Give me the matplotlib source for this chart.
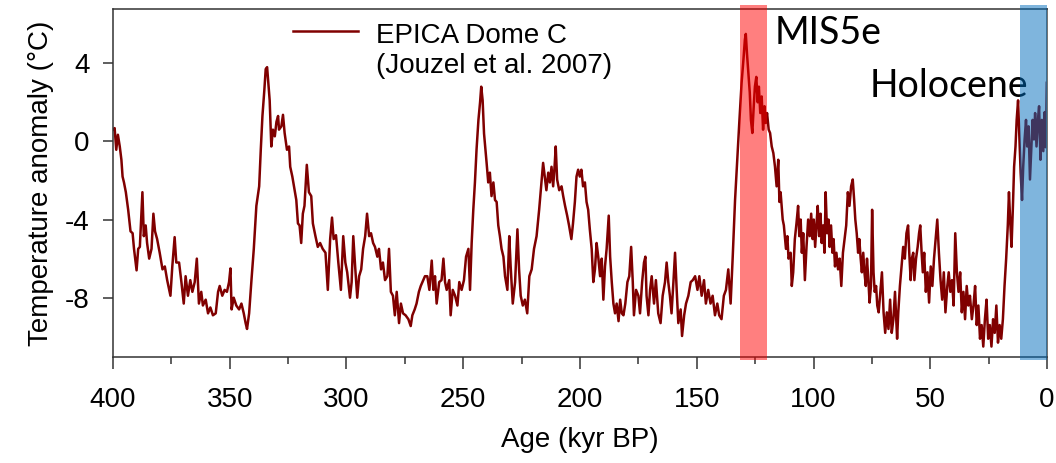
import matplotlib
matplotlib.use("Agg")
import matplotlib.pyplot as plt
import numpy as np
from matplotlib.ticker import MultipleLocator

# EPICA Dome C temperature anomaly (age kyr BP, deg C)
age = [400.0, 399.3, 398.6, 397.9, 397.1, 396.4, 395.9, 395.3, 394.5, 393.5,
       392.5, 391.6, 391.0, 389.9, 389.2, 388.5, 387.4, 386.8, 386.0, 385.4,
       384.5, 383.5, 382.7, 382.0, 381.1, 380.0, 378.8, 377.8, 376.8, 375.4,
       374.6, 373.6, 372.9, 371.7, 370.7, 369.7, 368.9, 367.9, 366.9, 366.0,
       365.0, 364.1, 363.2, 362.2, 361.5, 360.3, 359.3, 358.3, 357.2, 356.0,
       355.0, 354.3, 353.2, 352.2, 351.2, 350.3, 349.7, 349.2, 348.3, 347.2,
       346.0, 345.0, 344.0, 343.2, 342.6, 341.7, 340.7, 339.7, 338.6, 337.4,
       336.7, 336.0, 335.2, 334.6, 334.0, 333.5, 332.9, 332.2, 331.5, 330.7,
       330.0, 329.3, 328.9, 327.9, 327.2, 326.5, 325.5, 324.6, 324.1, 323.2,
       322.2, 321.5, 320.8, 320.1, 319.4, 318.7, 318.0, 317.0, 316.1, 315.1,
       314.4, 313.3, 312.3, 311.3, 310.2, 309.0, 308.0, 307.0, 306.2, 305.5,
       304.5, 303.5, 302.4, 301.4, 300.5, 299.7, 298.5, 297.8, 297.1, 296.3,
       295.4, 294.6, 293.7, 292.9, 292.0, 291.2, 290.3, 289.5, 288.6, 287.8,
       286.8, 286.1, 285.2, 284.4, 283.5, 282.5, 281.8, 281.0, 280.1, 279.3,
       278.5, 277.5, 276.7, 275.8, 274.7, 273.5, 272.5, 271.8, 270.8, 270.0,
       269.0, 268.2, 267.5, 266.4, 265.4, 264.5, 263.5, 262.8, 262.1, 261.4,
       260.3, 259.3, 258.5, 257.8, 257.1, 256.0, 255.4, 254.5, 253.5, 252.5,
       251.7, 250.7, 249.7, 248.8, 247.8, 247.1, 246.4, 245.7, 245.0, 244.3,
       243.5, 242.8, 242.3, 241.7, 241.1, 240.6, 240.0, 239.3, 238.6, 237.9,
       237.1, 236.4, 235.7, 235.0, 234.3, 233.6, 232.8, 232.1, 231.1, 230.3,
       229.7, 228.8, 227.8, 226.8, 226.1, 225.4, 224.5, 223.6, 222.6, 221.7,
       220.7, 219.7, 218.6, 217.5, 216.5, 215.8, 215.1, 214.4, 213.6, 212.9,
       212.2, 211.5, 210.9, 210.4, 209.8, 208.9, 207.9, 207.2, 206.4, 205.5,
       204.7, 203.7, 203.0, 202.2, 201.5, 200.8, 200.1, 199.4, 198.7, 197.9,
       197.2, 196.5, 195.8, 195.0, 194.3, 193.6, 192.9, 192.2, 191.4, 190.7,
       190.0, 189.3, 188.6, 187.7, 187.1, 186.4, 185.7, 185.0, 184.3, 183.5,
       182.8, 182.1, 181.4, 180.6, 179.7, 178.9, 178.1, 177.4, 176.9, 176.0,
       175.0, 174.3, 173.4, 172.6, 172.0, 171.5, 170.7, 170.0, 169.3, 168.3,
       167.5, 166.5, 165.5, 164.6, 163.6, 162.9, 162.2, 161.5, 160.8, 160.0,
       159.3, 158.6, 157.9, 156.9, 156.3, 155.4, 154.6, 153.6, 152.6, 151.7,
       150.7, 149.7, 148.9, 147.9, 146.9, 146.1, 145.1, 144.1, 143.2, 142.2,
       141.2, 140.4, 139.4, 138.4, 137.5, 136.5, 135.5, 134.6, 133.6, 132.6,
       131.8, 130.8, 130.0, 129.4, 129.0, 128.5, 127.9, 127.3, 126.8, 126.2,
       125.6, 125.1, 124.5, 123.9, 123.4, 122.8, 122.2, 121.6, 121.0, 120.5,
       119.9, 119.2, 118.6, 117.9, 117.2, 116.5, 115.8, 115.1, 114.6, 114.1,
       113.2, 112.7, 111.8, 111.2, 110.7, 109.8, 109.3, 108.7, 108.0, 107.3,
       106.6, 106.1, 105.5, 105.0, 104.4, 103.7, 103.0, 102.3, 101.6, 101.0,
       100.4, 99.9, 99.3, 98.7, 98.2, 97.6, 97.0, 96.5, 95.9, 95.3,
       94.8, 94.2, 93.6, 93.1, 92.5, 91.9, 91.4, 90.8, 90.2, 89.5,
       88.8, 88.1, 87.4, 86.7, 86.0, 85.3, 84.6, 83.9, 83.2, 82.6,
       82.1, 81.5, 80.9, 80.4, 79.8, 79.3, 78.7, 78.2, 77.6, 77.1,
       76.5, 76.0, 75.4, 74.9, 74.3, 73.8, 73.2, 72.7, 72.1, 71.4,
       70.7, 70.0, 69.3, 68.6, 67.9, 67.2, 66.5, 65.8, 65.1, 64.2,
       63.7, 63.0, 62.3, 61.6, 60.9, 60.2, 59.5, 59.0, 58.4, 57.9,
       57.3, 56.8, 56.1, 55.4, 54.8, 54.3, 53.7, 53.2, 52.6, 51.9,
       51.2, 50.5, 49.8, 49.1, 48.4, 47.7, 47.0, 46.3, 45.6, 44.9,
       44.2, 43.5, 42.7, 42.1, 41.4, 40.7, 40.0, 39.3, 38.6, 37.9,
       37.2, 36.5, 35.8, 35.1, 34.4, 33.7, 33.0, 32.2, 31.5, 30.8,
       30.1, 29.4, 28.7, 28.0, 27.3, 26.6, 25.9, 25.2, 24.5, 23.8,
       23.1, 22.4, 21.7, 21.0, 20.3, 19.6, 18.9, 18.2, 17.5, 16.8,
       16.3, 15.8, 15.2, 14.6, 14.1, 13.5, 13.0, 12.4, 11.8, 11.3,
       10.7, 10.2, 9.6, 9.0, 8.5, 7.9, 7.3, 6.8, 6.2, 5.6,
       5.1, 4.5, 3.9, 3.4, 2.8, 2.2, 1.6, 1.0, 0.5, 0.1]
temp = [0.6, 0.68, -0.43, 0.34, -0.26, -0.94, -1.8, -2.1, -2.6, -3.5,
        -4.6, -4.7, -5.5, -6.6, -5.5, -5.4, -2.6, -4.85, -4.3, -5.2,
        -6.0, -5.5, -3.7, -4.6, -5.0, -5.7, -6.55, -6.4, -7.1, -7.9,
        -6.4, -4.9, -6.2, -6.2, -7.2, -8.3, -6.9, -7.9, -7.1, -7.7,
        -7.2, -6.0, -8.3, -7.7, -8.4, -8.1, -8.8, -8.5, -8.9, -8.8,
        -7.7, -7.4, -7.9, -7.6, -7.7, -7.2, -6.5, -8.6, -8.0, -8.4,
        -8.6, -8.3, -8.8, -9.3, -9.6, -8.8, -7.1, -5.5, -3.3, -2.3,
        -0.4, 1.3, 2.6, 3.7, 3.8, 3.0, 2.1, -0.26, 0.6, 0.26,
        1.0, 1.3, 0.6, 0.77, 1.36, 0.43, -0.43, -0.26, -1.3, -1.8,
        -2.5, -3.0, -4.2, -4.3, -5.2, -3.7, -3.3, -1.2, -2.6, -2.8,
        -4.2, -4.85, -5.4, -5.2, -5.5, -5.7, -7.6, -5.0, -3.9, -5.0,
        -4.8, -6.2, -7.6, -4.85, -6.2, -6.7, -8.0, -7.2, -4.85, -6.4,
        -8.0, -6.9, -6.55, -5.5, -4.85, -3.7, -4.85, -4.7, -5.2, -5.4,
        -5.9, -5.5, -6.55, -6.2, -7.1, -6.9, -5.5, -7.7, -7.9, -8.9,
        -7.7, -9.3, -8.3, -8.8, -8.9, -9.1, -9.45, -8.9, -8.6, -8.3,
        -7.7, -7.4, -7.2, -6.9, -6.9, -7.6, -6.1, -7.6, -6.9, -8.3,
        -7.2, -7.1, -6.0, -7.2, -7.6, -7.1, -8.9, -7.6, -7.9, -8.4,
        -7.2, -7.6, -7.1, -5.9, -5.5, -7.6, -5.2, -3.5, -2.1, -0.4,
        1.1, 2.0, 2.8, 2.1, 0.4, -0.26, -1.1, -2.1, -1.6, -2.8,
        -2.1, -3.0, -3.1, -4.3, -4.85, -5.5, -5.9, -6.9, -7.6, -4.85,
        -6.4, -8.3, -7.2, -4.5, -6.55, -7.9, -8.4, -8.1, -8.8, -6.9,
        -6.55, -5.5, -4.85, -3.5, -2.1, -1.1, -1.8, -2.5, -1.6, -2.1,
        -1.3, -2.3, -1.3, -0.26, -1.95, -2.5, -2.3, -2.8, -3.3, -3.8,
        -4.3, -5.0, -4.2, -3.1, -1.8, -1.45, -1.8, -1.45, -2.3, -2.1,
        -3.1, -3.5, -4.5, -5.5, -7.2, -6.55, -5.2, -5.9, -6.9, -6.0,
        -8.1, -6.4, -5.5, -3.8, -5.9, -7.2, -8.3, -8.8, -8.3, -9.2,
        -8.1, -8.8, -8.9, -8.3, -7.2, -6.9, -5.4, -7.2, -8.9, -7.6,
        -7.9, -8.8, -7.2, -6.2, -5.9, -7.9, -8.9, -7.6, -6.9, -8.3,
        -7.1, -8.8, -9.3, -7.9, -7.2, -6.2, -7.2, -7.9, -8.8, -7.2,
        -5.7, -7.6, -9.3, -8.6, -9.96, -8.9, -8.3, -7.9, -7.2, -7.1,
        -6.9, -7.6, -6.9, -7.9, -7.1, -8.3, -7.6, -8.3, -7.9, -8.9,
        -8.3, -8.9, -9.1, -7.9, -7.6, -6.55, -8.3, -5.9, -3.0, -0.77,
        0.94, 3.0, 4.2, 5.2, 5.5, 4.5, 3.5, 2.5, 1.1, 0.43,
        1.8, 2.8, 3.3, 2.0, 2.8, 1.45, 2.3, 0.6, 1.8, 0.94,
        1.45, 0.6, 0.43, -0.26, -0.6, -1.3, -2.3, -0.94, -3.1, -2.6,
        -4.0, -4.3, -5.5, -4.85, -6.0, -5.7, -7.4, -6.7, -5.0, -4.2,
        -3.3, -4.85, -4.0, -5.7, -4.7, -7.1, -5.4, -4.0, -4.85, -3.7,
        -5.0, -4.0, -5.4, -4.2, -3.3, -4.85, -3.7, -5.2, -4.3, -5.7,
        -2.6, -4.7, -4.0, -5.4, -4.3, -5.7, -5.0, -6.4, -5.7, -6.55,
        -6.0, -7.4, -5.7, -5.0, -4.3, -2.6, -3.3, -2.3, -1.95, -3.0,
        -4.0, -4.7, -5.7, -5.0, -6.0, -6.7, -5.7, -6.7, -7.4, -6.0,
        -7.1, -8.25, -7.4, -3.5, -6.7, -7.7, -7.4, -8.4, -8.75, -7.7,
        -6.7, -8.75, -9.8, -8.75, -9.6, -8.1, -9.8, -9.1, -7.7, -10.1,
        -8.75, -7.4, -6.4, -5.4, -6.0, -4.7, -4.3, -5.7, -7.1, -6.0,
        -5.7, -7.1, -6.0, -5.4, -4.7, -4.3, -5.7, -6.7, -5.7, -7.7,
        -6.7, -8.25, -6.4, -7.4, -6.0, -5.0, -4.0, -5.7, -7.1, -8.1,
        -6.7, -8.75, -7.4, -6.7, -7.7, -7.1, -8.4, -4.7, -6.7, -7.7,
        -6.7, -8.75, -7.7, -9.1, -7.4, -8.4, -7.9, -9.1, -8.4, -7.4,
        -9.4, -8.4, -10.1, -9.4, -10.5, -9.1, -8.1, -10.1, -9.4, -10.5,
        -9.1, -9.8, -8.4, -10.3, -9.4, -10.1, -9.1, -7.4, -6.0, -4.3,
        -2.6, -4.0, -5.4, -3.3, -1.3, -0.26, 1.1, 2.1, 0.1, -1.6,
        -3.0, -1.3, 0.1, 1.1, -0.26, 0.77, -1.95, -0.6, 1.1, 0.1,
        1.45, -0.26, 1.1, 1.8, -0.94, 1.1, -0.5, 1.5, -0.3, 3.0]

series_label = "EPICA Dome C\n(Jouzel et al. 2007)"
x_ticks = [400, 350, 300, 250, 200, 150, 100, 50, 0]
y_ticks = [4, 0, -4, -8]
mis5e = (131.5, 120.0)
holocene = (11.6, 0.15)

plt.rcParams['font.family'] = ['Liberation Sans', 'DejaVu Sans']

fig = plt.figure(figsize=(10.56, 4.63), dpi=100)
ax = fig.add_axes([0.1070, 0.2283, 0.8845, 0.7533])

line, = ax.plot(age, temp, color='#800000', lw=1.8, zorder=2,
                label=series_label)

ax.axvspan(mis5e[0], mis5e[1], ymin=-0.008, ymax=1.01, color='#ff0000',
           alpha=0.5, lw=0, zorder=4, clip_on=False)
ax.axvspan(holocene[0], holocene[1], ymin=-0.008, ymax=1.01, color='#006dbd',
           alpha=0.5, lw=0, zorder=4, clip_on=False)

ax.text(116.5, 5.0, 'MIS5e', fontsize=27, family=['Lato', 'DejaVu Sans'],
        ha='left', va='baseline', zorder=3)
ax.text(76.1, 2.29, 'Holocene', fontsize=27, family=['Lato', 'DejaVu Sans'],
        ha='left', va='baseline', zorder=3)

ax.set_xlim(400, 0)
ax.set_ylim(-11.05, 6.8)
ax.set_xticks(x_ticks)
ax.set_xticklabels([str(v) for v in x_ticks])
ax.xaxis.set_minor_locator(MultipleLocator(25))
ax.set_yticks(y_ticks)
ax.set_yticklabels([str(v) for v in y_ticks])

ax.tick_params(axis='x', which='major', direction='out', length=8.6, width=1.1,
               color='#333333', labelsize=20, pad=13)
ax.tick_params(axis='x', which='minor', direction='out', length=5, width=1.1,
               color='#333333')
ax.tick_params(axis='y', which='major', direction='out', length=7, width=1.1,
               color='#333333', labelsize=20, pad=10)

for side in ['left', 'bottom', 'top']:
    ax.spines[side].set_color('#333333')
    ax.spines[side].set_linewidth(1.1)
ax.spines['right'].set_color('#666666')
ax.spines['right'].set_linewidth(1.3)

ax.set_xlabel('Age (kyr BP)', fontsize=20, labelpad=10)
ax.set_ylabel('Temperature anomaly (°C)', fontsize=20, labelpad=8)

leg = ax.legend(loc='upper left', bbox_to_anchor=(0.1927, 0.958),
                frameon=False, fontsize=20, handlelength=2.35,
                handletextpad=0.65, borderpad=0, borderaxespad=0)
# put the legend line level with the first text line
leg_line = leg.legend_handles[0]
leg_line.set_ydata(np.asarray(leg_line.get_ydata()) + 14.4)

fig.savefig('out.png', dpi=100)
